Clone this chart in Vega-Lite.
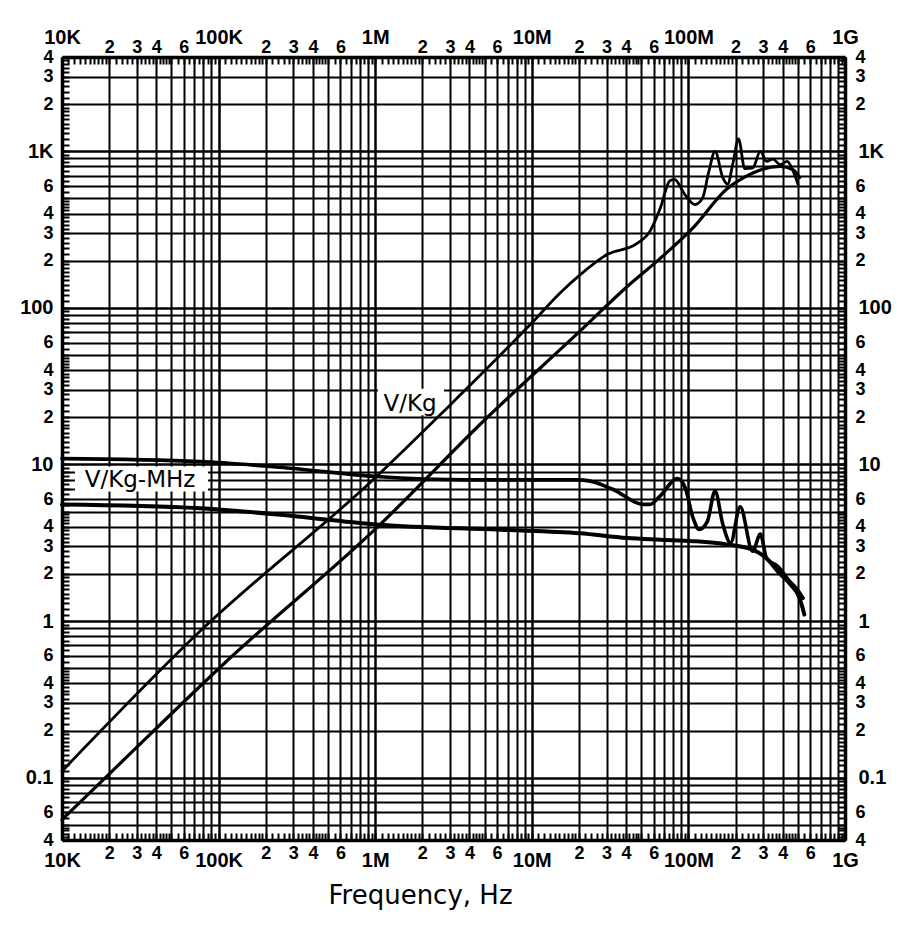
{
  "$schema": "https://vega.github.io/schema/vega-lite/v6.json",
  "width": 783,
  "height": 783,
  "autosize": {"type": "none"},
  "padding": {"left": 62, "top": 57, "right": 55, "bottom": 87},
  "background": "white",
  "config": {
    "view": {"stroke": null},
    "axis": {
      "domainColor": "black",
      "domainWidth": 3.5,
      "tickColor": "black",
      "tickWidth": 2,
      "labelColor": "black",
      "labelFont": "Liberation Sans",
      "labelFontWeight": "bold",
      "labelFlush": false,
      "labelOverlap": false,
      "labelBound": false
    }
  },
  "datasets": {
    "curves": [
      {"curve": "V/Kg (1)", "f": 1e4, "v": 0.11},
      {"curve": "V/Kg (1)", "f": 7.6e4, "v": 0.86},
      {"curve": "V/Kg (1)", "f": 1.02e6, "v": 8.38},
      {"curve": "V/Kg (1)", "f": 2.59e6, "v": 20.7},
      {"curve": "V/Kg (1)", "f": 1.02e7, "v": 81.8},
      {"curve": "V/Kg (1)", "f": 1.51e7, "v": 124},
      {"curve": "V/Kg (1)", "f": 2.04e7, "v": 163},
      {"curve": "V/Kg (1)", "f": 3.02e7, "v": 219},
      {"curve": "V/Kg (1)", "f": 4.68e7, "v": 257},
      {"curve": "V/Kg (1)", "f": 5.69e7, "v": 309},
      {"curve": "V/Kg (1)", "f": 6.61e7, "v": 432},
      {"curve": "V/Kg (1)", "f": 7.59e7, "v": 646},
      {"curve": "V/Kg (1)", "f": 8.13e7, "v": 661},
      {"curve": "V/Kg (1)", "f": 9.55e7, "v": 525},
      {"curve": "V/Kg (1)", "f": 1.10e8, "v": 457},
      {"curve": "V/Kg (1)", "f": 1.23e8, "v": 501},
      {"curve": "V/Kg (1)", "f": 1.35e8, "v": 741},
      {"curve": "V/Kg (1)", "f": 1.48e8, "v": 1000},
      {"curve": "V/Kg (1)", "f": 1.66e8, "v": 676},
      {"curve": "V/Kg (1)", "f": 1.78e8, "v": 617},
      {"curve": "V/Kg (1)", "f": 1.93e8, "v": 851},
      {"curve": "V/Kg (1)", "f": 2.09e8, "v": 1200},
      {"curve": "V/Kg (1)", "f": 2.29e8, "v": 776},
      {"curve": "V/Kg (1)", "f": 2.57e8, "v": 780},
      {"curve": "V/Kg (1)", "f": 2.88e8, "v": 1000},
      {"curve": "V/Kg (1)", "f": 3.16e8, "v": 861},
      {"curve": "V/Kg (1)", "f": 3.47e8, "v": 891},
      {"curve": "V/Kg (1)", "f": 3.85e8, "v": 822},
      {"curve": "V/Kg (1)", "f": 4.27e8, "v": 861},
      {"curve": "V/Kg (1)", "f": 4.68e8, "v": 741},
      {"curve": "V/Kg (1)", "f": 5.01e8, "v": 617},
      {"curve": "V/Kg (2)", "f": 1e4, "v": 0.054},
      {"curve": "V/Kg (2)", "f": 2.03e4, "v": 0.107},
      {"curve": "V/Kg (2)", "f": 1.12e5, "v": 0.552},
      {"curve": "V/Kg (2)", "f": 1.07e6, "v": 4.12},
      {"curve": "V/Kg (2)", "f": 5.15e6, "v": 19.8},
      {"curve": "V/Kg (2)", "f": 2.03e7, "v": 71},
      {"curve": "V/Kg (2)", "f": 4.07e7, "v": 137},
      {"curve": "V/Kg (2)", "f": 6.61e7, "v": 207},
      {"curve": "V/Kg (2)", "f": 1.07e8, "v": 324},
      {"curve": "V/Kg (2)", "f": 1.76e8, "v": 575},
      {"curve": "V/Kg (2)", "f": 2.24e8, "v": 676},
      {"curve": "V/Kg (2)", "f": 2.88e8, "v": 760},
      {"curve": "V/Kg (2)", "f": 3.85e8, "v": 800},
      {"curve": "V/Kg (2)", "f": 4.68e8, "v": 760},
      {"curve": "V/Kg (2)", "f": 5.13e8, "v": 680},
      {"curve": "V/Kg-MHz (1)", "f": 1e4, "v": 10.9},
      {"curve": "V/Kg-MHz (1)", "f": 7.6e4, "v": 10.45},
      {"curve": "V/Kg-MHz (1)", "f": 2.86e5, "v": 9.46},
      {"curve": "V/Kg-MHz (1)", "f": 1.02e6, "v": 8.38},
      {"curve": "V/Kg-MHz (1)", "f": 3.85e6, "v": 7.98},
      {"curve": "V/Kg-MHz (1)", "f": 2.03e7, "v": 7.98},
      {"curve": "V/Kg-MHz (1)", "f": 2.45e7, "v": 7.76},
      {"curve": "V/Kg-MHz (1)", "f": 3.31e7, "v": 6.92},
      {"curve": "V/Kg-MHz (1)", "f": 5.13e7, "v": 5.56},
      {"curve": "V/Kg-MHz (1)", "f": 5.69e7, "v": 5.56},
      {"curve": "V/Kg-MHz (1)", "f": 6.61e7, "v": 6.31},
      {"curve": "V/Kg-MHz (1)", "f": 8.51e7, "v": 8.13},
      {"curve": "V/Kg-MHz (1)", "f": 9.55e7, "v": 7.08},
      {"curve": "V/Kg-MHz (1)", "f": 1.07e8, "v": 4.57},
      {"curve": "V/Kg-MHz (1)", "f": 1.17e8, "v": 3.85},
      {"curve": "V/Kg-MHz (1)", "f": 1.32e8, "v": 4.32},
      {"curve": "V/Kg-MHz (1)", "f": 1.48e8, "v": 6.76},
      {"curve": "V/Kg-MHz (1)", "f": 1.66e8, "v": 4.14},
      {"curve": "V/Kg-MHz (1)", "f": 1.86e8, "v": 3.16},
      {"curve": "V/Kg-MHz (1)", "f": 2.14e8, "v": 5.37},
      {"curve": "V/Kg-MHz (1)", "f": 2.57e8, "v": 2.79},
      {"curve": "V/Kg-MHz (1)", "f": 2.88e8, "v": 3.59},
      {"curve": "V/Kg-MHz (1)", "f": 3.16e8, "v": 2.51},
      {"curve": "V/Kg-MHz (1)", "f": 3.72e8, "v": 2.24},
      {"curve": "V/Kg-MHz (1)", "f": 4.47e8, "v": 1.78},
      {"curve": "V/Kg-MHz (1)", "f": 4.90e8, "v": 1.62},
      {"curve": "V/Kg-MHz (1)", "f": 5.4e8, "v": 1.4},
      {"curve": "V/Kg-MHz (2)", "f": 1e4, "v": 5.56},
      {"curve": "V/Kg-MHz (2)", "f": 7.6e4, "v": 5.26},
      {"curve": "V/Kg-MHz (2)", "f": 3.16e5, "v": 4.66},
      {"curve": "V/Kg-MHz (2)", "f": 1.07e6, "v": 4.12},
      {"curve": "V/Kg-MHz (2)", "f": 6.31e6, "v": 3.83},
      {"curve": "V/Kg-MHz (2)", "f": 2.03e7, "v": 3.64},
      {"curve": "V/Kg-MHz (2)", "f": 4.07e7, "v": 3.39},
      {"curve": "V/Kg-MHz (2)", "f": 6.61e7, "v": 3.31},
      {"curve": "V/Kg-MHz (2)", "f": 1.07e8, "v": 3.24},
      {"curve": "V/Kg-MHz (2)", "f": 1.76e8, "v": 3.09},
      {"curve": "V/Kg-MHz (2)", "f": 2.57e8, "v": 2.86},
      {"curve": "V/Kg-MHz (2)", "f": 3.16e8, "v": 2.51},
      {"curve": "V/Kg-MHz (2)", "f": 3.85e8, "v": 2.0},
      {"curve": "V/Kg-MHz (2)", "f": 4.47e8, "v": 1.72},
      {"curve": "V/Kg-MHz (2)", "f": 5.13e8, "v": 1.4},
      {"curve": "V/Kg-MHz (2)", "f": 5.5e8, "v": 1.1}
    ],
    "labels": [
      {"label": "V/Kg", "f": 1.67e6, "v": 21.8},
      {"label": "V/Kg-MHz", "f": 3.15e4, "v": 7.13}
    ],
    "boxes": [
      {"f1": 1.04e6, "f2": 2.75e6, "v1": 20.6, "v2": 30.5},
      {"f1": 1.21e4, "f2": 8.55e4, "v1": 6.72, "v2": 9.7}
    ]
  },
  "resolve": {"axis": {"x": "independent", "y": "independent"}},
  "layer": [
    {
      "data": {"name": "boxes"},
      "mark": {"type": "rect", "fill": "white", "stroke": null},
      "encoding": {
        "x": {"field": "f1", "type": "quantitative", "scale": {"type": "log", "domain": [1e4, 1e9], "nice": false}, "axis": null},
        "x2": {"field": "f2"},
        "y": {"field": "v1", "type": "quantitative", "scale": {"type": "log", "domain": [0.04, 4000], "nice": false}, "axis": null},
        "y2": {"field": "v2"}
      }
    },
    {
      "data": {"name": "curves"},
      "mark": {"type": "line", "interpolate": "monotone", "color": "black", "strokeJoin": "round", "strokeCap": "round"},
      "encoding": {
        "x": {
          "field": "f", "type": "quantitative",
          "scale": {"type": "log", "domain": [1e4, 1e9], "nice": false},
          "axis": {
            "orient": "bottom",
            "values": [1e4,1.1e4,1.2e4,1.3e4,1.4e4,1.5e4,1.6e4,1.7e4,1.8e4,1.9e4,2e4,2.2e4,2.4e4,2.6e4,2.8e4,3e4,3.2e4,3.4e4,3.6e4,3.8e4,4e4,4.2e4,4.4e4,4.6e4,4.8e4,5e4,5.5e4,6e4,6.5e4,7e4,7.5e4,8e4,8.5e4,9e4,9.5e4,
                       1e5,1.1e5,1.2e5,1.3e5,1.4e5,1.5e5,1.6e5,1.7e5,1.8e5,1.9e5,2e5,2.2e5,2.4e5,2.6e5,2.8e5,3e5,3.2e5,3.4e5,3.6e5,3.8e5,4e5,4.2e5,4.4e5,4.6e5,4.8e5,5e5,5.5e5,6e5,6.5e5,7e5,7.5e5,8e5,8.5e5,9e5,9.5e5,
                       1e6,1.1e6,1.2e6,1.3e6,1.4e6,1.5e6,1.6e6,1.7e6,1.8e6,1.9e6,2e6,2.2e6,2.4e6,2.6e6,2.8e6,3e6,3.2e6,3.4e6,3.6e6,3.8e6,4e6,4.2e6,4.4e6,4.6e6,4.8e6,5e6,5.5e6,6e6,6.5e6,7e6,7.5e6,8e6,8.5e6,9e6,9.5e6,
                       1e7,1.1e7,1.2e7,1.3e7,1.4e7,1.5e7,1.6e7,1.7e7,1.8e7,1.9e7,2e7,2.2e7,2.4e7,2.6e7,2.8e7,3e7,3.2e7,3.4e7,3.6e7,3.8e7,4e7,4.2e7,4.4e7,4.6e7,4.8e7,5e7,5.5e7,6e7,6.5e7,7e7,7.5e7,8e7,8.5e7,9e7,9.5e7,
                       1e8,1.1e8,1.2e8,1.3e8,1.4e8,1.5e8,1.6e8,1.7e8,1.8e8,1.9e8,2e8,2.2e8,2.4e8,2.6e8,2.8e8,3e8,3.2e8,3.4e8,3.6e8,3.8e8,4e8,4.2e8,4.4e8,4.6e8,4.8e8,5e8,5.5e8,6e8,6.5e8,7e8,7.5e8,8e8,8.5e8,9e8,9.5e8,1e9],
            "title": "Frequency, Hz",
            "titleFont": "DejaVu Sans",
            "titleFontSize": 26,
            "titleFontWeight": "normal",
            "titleColor": "black",
            "titleX": 358,
            "titleY": 63,
            "titleAlign": "center",
            "titleBaseline": "alphabetic",
            "grid": true,
            "gridColor": "black",
            "gridOpacity": {"condition": {"test": "abs((datum.value/pow(10,floor(log(datum.value)/LN10+1e-6)))-round(datum.value/pow(10,floor(log(datum.value)/LN10+1e-6))))<1e-6", "value": 1}, "value": 0},
            "gridWidth": {"condition": {"test": "abs((datum.value/pow(10,floor(log(datum.value)/LN10+1e-6)))-1)<1e-6", "value": 2.5}, "value": 2},
            "ticks": true,
            "tickSize": -7,
            "labelExpr": "abs((datum.value/pow(10,floor(log(datum.value)/LN10+1e-6)))-1)<1e-6 ? (datum.value<5e4?'10K':datum.value<5e5?'100K':datum.value<5e6?'1M':datum.value<5e7?'10M':datum.value<5e8?'100M':'1G') : ((abs((datum.value/pow(10,floor(log(datum.value)/LN10+1e-6)))-round(datum.value/pow(10,floor(log(datum.value)/LN10+1e-6))))<1e-6 && indexof([2,3,4,6],round(datum.value/pow(10,floor(log(datum.value)/LN10+1e-6))))>=0) ? ''+round(datum.value/pow(10,floor(log(datum.value)/LN10+1e-6))) : '')",
            "labelFontSize": {"condition": {"test": "abs((datum.value/pow(10,floor(log(datum.value)/LN10+1e-6)))-1)<1e-6", "value": 20}, "value": 18},
            "labelPadding": {"condition": {"test": "abs((datum.value/pow(10,floor(log(datum.value)/LN10+1e-6)))-1)<1e-6", "value": 17}, "value": 11}
          }
        },
        "y": {
          "field": "v", "type": "quantitative",
          "scale": {"type": "log", "domain": [0.04, 4000], "nice": false},
          "axis": {
            "orient": "left",
            "values": [4e-2,4.2e-2,4.4e-2,4.6e-2,4.8e-2,5e-2,5.5e-2,6e-2,6.5e-2,7e-2,7.5e-2,8e-2,8.5e-2,9e-2,9.5e-2,
                       1e-1,1.1e-1,1.2e-1,1.3e-1,1.4e-1,1.5e-1,1.6e-1,1.7e-1,1.8e-1,1.9e-1,2e-1,2.2e-1,2.4e-1,2.6e-1,2.8e-1,3e-1,3.2e-1,3.4e-1,3.6e-1,3.8e-1,4e-1,4.2e-1,4.4e-1,4.6e-1,4.8e-1,5e-1,5.5e-1,6e-1,6.5e-1,7e-1,7.5e-1,8e-1,8.5e-1,9e-1,9.5e-1,
                       1,1.1,1.2,1.3,1.4,1.5,1.6,1.7,1.8,1.9,2,2.2,2.4,2.6,2.8,3,3.2,3.4,3.6,3.8,4,4.2,4.4,4.6,4.8,5,5.5,6,6.5,7,7.5,8,8.5,9,9.5,
                       10,11,12,13,14,15,16,17,18,19,20,22,24,26,28,30,32,34,36,38,40,42,44,46,48,50,55,60,65,70,75,80,85,90,95,
                       100,110,120,130,140,150,160,170,180,190,200,220,240,260,280,300,320,340,360,380,400,420,440,460,480,500,550,600,650,700,750,800,850,900,950,
                       1000,1100,1200,1300,1400,1500,1600,1700,1800,1900,2000,2200,2400,2600,2800,3000,3200,3400,3600,3800,4000],
            "title": null,
            "grid": true,
            "gridColor": "black",
            "gridOpacity": {"condition": {"test": "abs((datum.value/pow(10,floor(log(datum.value)/LN10+1e-6)))-round(datum.value/pow(10,floor(log(datum.value)/LN10+1e-6))))<1e-6", "value": 1}, "value": 0},
            "gridWidth": {"condition": {"test": "abs((datum.value/pow(10,floor(log(datum.value)/LN10+1e-6)))-1)<1e-6", "value": 2.5}, "value": 2},
            "ticks": true,
            "tickSize": -7,
            "labelExpr": "abs((datum.value/pow(10,floor(log(datum.value)/LN10+1e-6)))-1)<1e-6 ? (datum.value<0.5?'0.1':datum.value<5?'1':datum.value<50?'10':datum.value<500?'100':'1K') : ((abs((datum.value/pow(10,floor(log(datum.value)/LN10+1e-6)))-round(datum.value/pow(10,floor(log(datum.value)/LN10+1e-6))))<1e-6 && indexof([2,3,4,6],round(datum.value/pow(10,floor(log(datum.value)/LN10+1e-6))))>=0) ? ''+round(datum.value/pow(10,floor(log(datum.value)/LN10+1e-6))) : '')",
            "labelFontSize": {"condition": {"test": "abs((datum.value/pow(10,floor(log(datum.value)/LN10+1e-6)))-1)<1e-6", "value": 20}, "value": 18},
            "labelPadding": 16
          }
        },
        "detail": {"field": "curve", "type": "nominal"},
        "strokeWidth": {
          "field": "curve", "type": "nominal",
          "scale": {"domain": ["V/Kg (1)", "V/Kg (2)", "V/Kg-MHz (1)", "V/Kg-MHz (2)"], "range": [2.8, 4, 2.8, 4]},
          "legend": null
        }
      }
    },
    {
      "data": {"name": "labels"},
      "mark": {"type": "text", "font": "DejaVu Sans", "fontSize": 23, "align": "center", "baseline": "alphabetic", "color": "black"},
      "encoding": {
        "x": {
          "field": "f", "type": "quantitative",
          "scale": {"type": "log", "domain": [1e4, 1e9], "nice": false},
          "axis": {
            "orient": "top",
            "values": [1e4,1.1e4,1.2e4,1.3e4,1.4e4,1.5e4,1.6e4,1.7e4,1.8e4,1.9e4,2e4,2.2e4,2.4e4,2.6e4,2.8e4,3e4,3.2e4,3.4e4,3.6e4,3.8e4,4e4,4.2e4,4.4e4,4.6e4,4.8e4,5e4,5.5e4,6e4,6.5e4,7e4,7.5e4,8e4,8.5e4,9e4,9.5e4,
                       1e5,1.1e5,1.2e5,1.3e5,1.4e5,1.5e5,1.6e5,1.7e5,1.8e5,1.9e5,2e5,2.2e5,2.4e5,2.6e5,2.8e5,3e5,3.2e5,3.4e5,3.6e5,3.8e5,4e5,4.2e5,4.4e5,4.6e5,4.8e5,5e5,5.5e5,6e5,6.5e5,7e5,7.5e5,8e5,8.5e5,9e5,9.5e5,
                       1e6,1.1e6,1.2e6,1.3e6,1.4e6,1.5e6,1.6e6,1.7e6,1.8e6,1.9e6,2e6,2.2e6,2.4e6,2.6e6,2.8e6,3e6,3.2e6,3.4e6,3.6e6,3.8e6,4e6,4.2e6,4.4e6,4.6e6,4.8e6,5e6,5.5e6,6e6,6.5e6,7e6,7.5e6,8e6,8.5e6,9e6,9.5e6,
                       1e7,1.1e7,1.2e7,1.3e7,1.4e7,1.5e7,1.6e7,1.7e7,1.8e7,1.9e7,2e7,2.2e7,2.4e7,2.6e7,2.8e7,3e7,3.2e7,3.4e7,3.6e7,3.8e7,4e7,4.2e7,4.4e7,4.6e7,4.8e7,5e7,5.5e7,6e7,6.5e7,7e7,7.5e7,8e7,8.5e7,9e7,9.5e7,
                       1e8,1.1e8,1.2e8,1.3e8,1.4e8,1.5e8,1.6e8,1.7e8,1.8e8,1.9e8,2e8,2.2e8,2.4e8,2.6e8,2.8e8,3e8,3.2e8,3.4e8,3.6e8,3.8e8,4e8,4.2e8,4.4e8,4.6e8,4.8e8,5e8,5.5e8,6e8,6.5e8,7e8,7.5e8,8e8,8.5e8,9e8,9.5e8,1e9],
            "title": null,
            "grid": false,
            "ticks": true,
            "tickSize": -7,
            "labelExpr": "abs((datum.value/pow(10,floor(log(datum.value)/LN10+1e-6)))-1)<1e-6 ? (datum.value<5e4?'10K':datum.value<5e5?'100K':datum.value<5e6?'1M':datum.value<5e7?'10M':datum.value<5e8?'100M':'1G') : ((abs((datum.value/pow(10,floor(log(datum.value)/LN10+1e-6)))-round(datum.value/pow(10,floor(log(datum.value)/LN10+1e-6))))<1e-6 && indexof([2,3,4,6],round(datum.value/pow(10,floor(log(datum.value)/LN10+1e-6))))>=0) ? ''+round(datum.value/pow(10,floor(log(datum.value)/LN10+1e-6))) : '')",
            "labelFontSize": {"condition": {"test": "abs((datum.value/pow(10,floor(log(datum.value)/LN10+1e-6)))-1)<1e-6", "value": 20}, "value": 18},
            "labelPadding": {"condition": {"test": "abs((datum.value/pow(10,floor(log(datum.value)/LN10+1e-6)))-1)<1e-6", "value": 16.5}, "value": 7.2}
          }
        },
        "y": {
          "field": "v", "type": "quantitative",
          "scale": {"type": "log", "domain": [0.04, 4000], "nice": false},
          "axis": {
            "orient": "right",
            "values": [4e-2,4.2e-2,4.4e-2,4.6e-2,4.8e-2,5e-2,5.5e-2,6e-2,6.5e-2,7e-2,7.5e-2,8e-2,8.5e-2,9e-2,9.5e-2,
                       1e-1,1.1e-1,1.2e-1,1.3e-1,1.4e-1,1.5e-1,1.6e-1,1.7e-1,1.8e-1,1.9e-1,2e-1,2.2e-1,2.4e-1,2.6e-1,2.8e-1,3e-1,3.2e-1,3.4e-1,3.6e-1,3.8e-1,4e-1,4.2e-1,4.4e-1,4.6e-1,4.8e-1,5e-1,5.5e-1,6e-1,6.5e-1,7e-1,7.5e-1,8e-1,8.5e-1,9e-1,9.5e-1,
                       1,1.1,1.2,1.3,1.4,1.5,1.6,1.7,1.8,1.9,2,2.2,2.4,2.6,2.8,3,3.2,3.4,3.6,3.8,4,4.2,4.4,4.6,4.8,5,5.5,6,6.5,7,7.5,8,8.5,9,9.5,
                       10,11,12,13,14,15,16,17,18,19,20,22,24,26,28,30,32,34,36,38,40,42,44,46,48,50,55,60,65,70,75,80,85,90,95,
                       100,110,120,130,140,150,160,170,180,190,200,220,240,260,280,300,320,340,360,380,400,420,440,460,480,500,550,600,650,700,750,800,850,900,950,
                       1000,1100,1200,1300,1400,1500,1600,1700,1800,1900,2000,2200,2400,2600,2800,3000,3200,3400,3600,3800,4000],
            "title": null,
            "grid": false,
            "ticks": true,
            "tickSize": -7,
            "labelExpr": "abs((datum.value/pow(10,floor(log(datum.value)/LN10+1e-6)))-1)<1e-6 ? (datum.value<0.5?'0.1':datum.value<5?'1':datum.value<50?'10':datum.value<500?'100':'1K') : ((abs((datum.value/pow(10,floor(log(datum.value)/LN10+1e-6)))-round(datum.value/pow(10,floor(log(datum.value)/LN10+1e-6))))<1e-6 && indexof([2,3,4,6],round(datum.value/pow(10,floor(log(datum.value)/LN10+1e-6))))>=0) ? ''+round(datum.value/pow(10,floor(log(datum.value)/LN10+1e-6))) : '')",
            "labelFontSize": {"condition": {"test": "abs((datum.value/pow(10,floor(log(datum.value)/LN10+1e-6)))-1)<1e-6", "value": 20}, "value": 18},
            "labelPadding": {"condition": {"test": "abs((datum.value/pow(10,floor(log(datum.value)/LN10+1e-6)))-1)<1e-6", "value": 20}, "value": 17}
          }
        },
        "text": {"field": "label", "type": "nominal"}
      }
    }
  ]
}
